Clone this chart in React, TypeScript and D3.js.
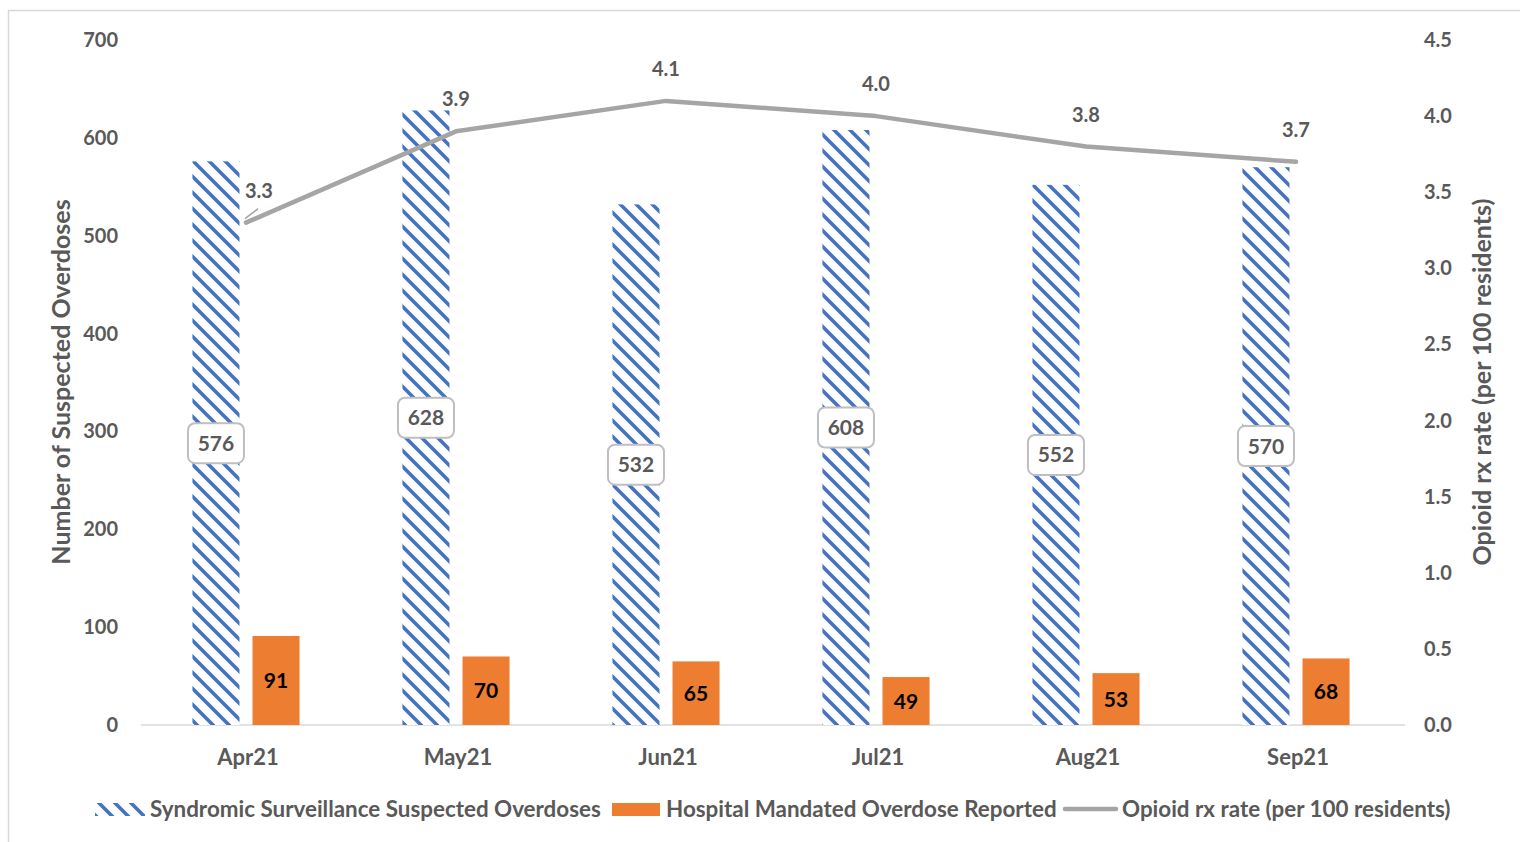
import * as d3 from 'd3';

const months = ['Apr21', 'May21', 'Jun21', 'Jul21', 'Aug21', 'Sep21'];
const syndromic = [576, 628, 532, 608, 552, 570];
const hospital = [91, 70, 65, 49, 53, 68];
const rxRate = [3.3, 3.9, 4.1, 4.0, 3.8, 3.7];
const leftTicks = [0, 100, 200, 300, 400, 500, 600, 700];
const rightTicks = [0, 0.5, 1, 1.5, 2, 2.5, 3, 3.5, 4, 4.5];

const W = 1520;
const H = 842;
const margin = { top: 40, right: 119, bottom: 117, left: 141 };
const FONT = 'Lato, "Open Sans", sans-serif';
const TEXT = '#595959';
const BLUE = '#4472C4';
const ORANGE = '#ED7D31';
const GRAY = '#A5A5A5';

export default function App() {
  const x0 = d3.scaleBand<string>()
    .domain(months)
    .range([margin.left, W - margin.right])
    .paddingInner(0.49)
    .paddingOuter(0.245);
  const x1 = d3.scaleBand<string>()
    .domain(['syn', 'hosp'])
    .range([0, x0.bandwidth()])
    .paddingInner(0.2167);
  const yL = d3.scaleLinear().domain([0, 700]).range([H - margin.bottom, margin.top]);
  const yR = d3.scaleLinear().domain([0, 4.5]).range([H - margin.bottom, margin.top]);
  const cx = (m: string) => (x0(m) ?? 0) + x0.bandwidth() / 2;
  const line = d3.line<number>()
    .x((_, i) => cx(months[i]))
    .y((v) => yR(v));
  const base = yL(0);

  return (
    <svg width={W} height={H} style={{ position: 'absolute', left: 0, top: 0, fontFamily: FONT }}>
      <defs>
        <pattern id="hatch" patternUnits="userSpaceOnUse" width={16} height={16}>
          <rect width={16} height={16} fill="#fff" />
          <path d="M-4,-4 L20,20 M-4,12 L4,20 M12,-4 L20,4" stroke={BLUE} strokeWidth={3.6} />
        </pattern>
      </defs>
      <rect x={0} y={0} width={W} height={H} fill="#fff" />
      <rect x={8.5} y={10.5} width={W + 20} height={H + 20} fill="none" stroke="#D9D9D9" strokeWidth={1.5} />

      {/* baseline */}
      <line x1={margin.left} x2={W - margin.right + 4} y1={base} y2={base} stroke="#D9D9D9" strokeWidth={1.5} />

      {/* left ticks */}
      {leftTicks.map((t) => (
        <text key={`l-${t}`} x={118} y={yL(t)} dy="0.35em" textAnchor="end" fontSize={20} fontWeight={700} fill={TEXT}>{t}</text>
      ))}
      {/* right ticks */}
      {rightTicks.map((t) => (
        <text key={`r-${t}`} x={1424} y={yR(t)} dy="0.35em" textAnchor="start" fontSize={20} fontWeight={700} fill={TEXT}>{t.toFixed(1)}</text>
      ))}

      <text transform={`translate(70,382) rotate(-90)`} textAnchor="middle" fontSize={25} fontWeight={700} fill={TEXT}>Number of Suspected Overdoses</text>
      <text transform={`translate(1491,382) rotate(-90)`} textAnchor="middle" fontSize={25} fontWeight={700} fill={TEXT}>Opioid rx rate (per 100 residents)</text>

      {/* bars */}
      {months.map((m, i) => {
        const gx = x0(m) ?? 0;
        const sx = gx + (x1('syn') ?? 0);
        const hx = gx + (x1('hosp') ?? 0);
        const bw = x1.bandwidth();
        const sy = yL(syndromic[i]);
        const hy = yL(hospital[i]);
        return (
          <g key={m}>
            <rect x={sx} y={sy} width={bw} height={base - sy} fill="url(#hatch)" />
            <rect x={hx} y={hy} width={bw} height={base - hy} fill={ORANGE} />
            <text x={cx(m) + 2} y={base + 40} textAnchor="middle" fontSize={22} fontWeight={700} fill={TEXT}>{m}</text>
          </g>
        );
      })}

      {/* line */}
      <path d={line(rxRate) ?? undefined} fill="none" stroke={GRAY} strokeWidth={4.5} strokeLinejoin="round" strokeLinecap="round" />

      {/* bar labels */}
      {months.map((m, i) => {
        const gx = x0(m) ?? 0;
        const bw = x1.bandwidth();
        const scx = gx + (x1('syn') ?? 0) + bw / 2;
        const hcx = gx + (x1('hosp') ?? 0) + bw / 2;
        const smid = (yL(syndromic[i]) + base) / 2;
        const hmid = (yL(hospital[i]) + base) / 2;
        return (
          <g key={`lab-${m}`}>
            <rect x={scx - 28} y={smid - 20} width={56} height={40} rx={7} fill="#fff" stroke="#BFBFBF" strokeWidth={2} />
            <text x={scx} y={smid} dy="0.36em" textAnchor="middle" fontSize={21} fontWeight={700} fill={TEXT}>{syndromic[i]}</text>
            <text x={hcx} y={hmid} dy="0.36em" textAnchor="middle" fontSize={21} fontWeight={700} fill="#000">{hospital[i]}</text>
          </g>
        );
      })}

      {/* line labels */}
      {rxRate.map((v, i) => {
        const px = cx(months[i]);
        const py = yR(v);
        if (i === 0) {
          return (
            <g key={`rx-${i}`}>
              <line x1={px - 1} y1={py - 4} x2={px + 12} y2={py - 14} stroke={GRAY} strokeWidth={1.5} />
              <text x={px + 13} y={py - 32} dy="0.35em" textAnchor="middle" fontSize={20} fontWeight={700} fill={TEXT}>{v.toFixed(1)}</text>
            </g>
          );
        }
        return (
          <text key={`rx-${i}`} x={px} y={py - 32} dy="0.35em" textAnchor="middle" fontSize={20} fontWeight={700} fill={TEXT}>{v.toFixed(1)}</text>
        );
      })}

      {/* legend */}
      <g fontSize={22.4} fontWeight={700} fill={TEXT}>
        <rect x={95} y={803} width={50} height={13} fill="url(#hatch)" />
        <text x={150} y={809} dy="0.35em">Syndromic Surveillance Suspected Overdoses</text>
        <rect x={612} y={803} width={48} height={13} fill={ORANGE} />
        <text x={666} y={809} dy="0.35em">Hospital Mandated Overdose Reported</text>
        <line x1={1065} x2={1116} y1={809} y2={809} stroke={GRAY} strokeWidth={4.5} strokeLinecap="round" />
        <text x={1122} y={809} dy="0.35em">Opioid rx rate (per 100 residents)</text>
      </g>
    </svg>
  );
}
